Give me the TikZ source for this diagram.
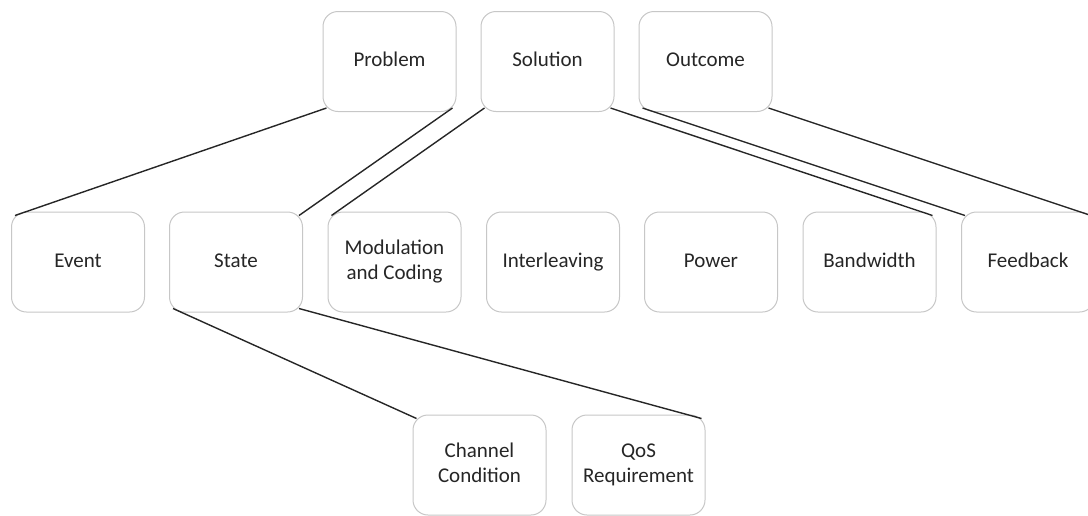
\documentclass[tikz,border=0pt]{standalone}
\usepackage{fontspec}
\setmainfont{Carlito}
\usetikzlibrary{calc}
\tikzset{
  box/.style={draw=black!22, line width=1pt, fill=white, rounded corners=15pt,
    minimum width=133pt, minimum height=100pt, align=center, text=black!85,
    font=\fontsize{21}{25}\selectfont, inner sep=0pt},
  onebox/.style={box, text height=14pt, text depth=4pt},
  link/.style={draw=black!85, line width=1.4pt}
}
\begin{document}
\begin{tikzpicture}[x=1pt,y=-1pt]
\useasboundingbox (0,0) rectangle (1088,515);
\clip (0,0) rectangle (1088,515);
% top row
\node[onebox] (P) at (389.5,61.5) {Problem};
\node[onebox] (S) at (547.5,61.5) {Solution};
\node[onebox] (O) at (705.5,61.5) {Outcome};
% middle row
\node[onebox] (E) at (78,262) {Event};
\node[onebox] (St) at (236,262) {State};
\node[box] (M) at (394.5,262) {\strut Modulation\\\strut and Coding};
\node[onebox] (I) at (553,262) {Interleaving};
\node[onebox] (Pw) at (711,262) {Power};
\node[onebox] (B) at (869.5,262) {Bandwidth};
\node[onebox] (F) at (1028,262) {Feedback};
% bottom row
\node[box] (C) at (479.5,465) {\strut Channel\\\strut Condition};
\node[box] (Q) at (638.5,465) {\strut QoS\\\strut Requirement};
% connectors
\draw[link] ($(P.south west)+(4,-4)$) -- ($(E.north west)+(4,4)$);
\draw[link] ($(P.south east)+(-4,-4)$) -- ($(St.north east)+(-4,4)$);
\draw[link] ($(S.south west)+(4,-4)$) -- ($(M.north west)+(4,4)$);
\draw[link] ($(S.south east)+(-4,-4)$) -- ($(B.north east)+(-4,4)$);
\draw[link] ($(O.south west)+(4,-4)$) -- ($(F.north west)+(4,4)$);
\draw[link] ($(O.south east)+(-4,-4)$) -- ($(F.north east)+(-4,4)$);
\draw[link] ($(St.south west)+(4,-4)$) -- ($(C.north west)+(4,4)$);
\draw[link] ($(St.south east)+(-4,-4)$) -- ($(Q.north east)+(-4,4)$);
\end{tikzpicture}
\end{document}
